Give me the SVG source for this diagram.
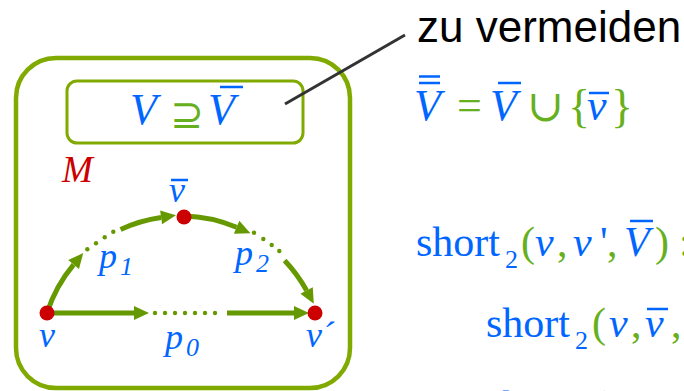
<svg xmlns="http://www.w3.org/2000/svg" width="684" height="391" viewBox="0 0 684 391">
<style>
.box{fill:none;stroke:#80aa00}
.ar{fill:none;stroke:#669900;stroke-width:5}
.dot{fill:#669900}
.nd{fill:#cc0000}
.mi{font-family:"Liberation Serif","Times New Roman",serif;font-style:italic;fill:#0066ff}
.mr{font-family:"Liberation Serif","Times New Roman",serif;fill:#0066ff}
.g{font-family:"Liberation Serif","Times New Roman",serif;fill:#66b020}
.bar{stroke:#0066ff;stroke-width:2.5}
.lbl{font-size:36px}
.sub{font-size:26px}
</style>
<defs>
<marker id="ah" markerUnits="userSpaceOnUse" markerWidth="16" markerHeight="14" refX="0" refY="7" orient="auto" overflow="visible">
<path d="M0,0 L15,7 L0,14 Z" fill="#669900"/>
</marker>
</defs>
<rect x="0" y="0" width="684" height="391" fill="#ffffff"/>

<g id="M">
<rect class="box" x="16" y="58" width="334" height="330" rx="40" stroke-width="4.5"/>
<text class="mi" x="62" y="182" font-size="37" style="fill:#cc0000">M</text>
</g>

<g id="subset-box">
<rect class="box" x="67" y="81" width="236" height="62" rx="10" stroke-width="3"/>
<text class="mi" x="130" y="124" font-size="44">V</text>
<text x="170" y="128" font-family="DejaVu Sans, sans-serif" font-size="40" fill="#66b020">⊇</text>
<text class="mi" x="208" y="124" font-size="44">V</text>
<line class="bar" x1="220" y1="87" x2="243" y2="87"/>
</g>

<g id="connectors">
<line x1="285" y1="104" x2="405" y2="35" stroke="#333333" stroke-width="3"/>
<path class="ar" d="M47,313 A143,143 0 0 1 73.6,264.6" marker-end="url(#ah)"/>
<path class="ar" d="M120.6,229.4 A143,143 0 0 1 161.1,217.4" marker-end="url(#ah)"/>
<path class="ar" d="M184,216 A143,143 0 0 1 236.6,227.3" marker-end="url(#ah)"/>
<path class="ar" d="M284.6,260.4 A143,143 0 0 1 306.6,290.5" marker-end="url(#ah)"/>
<path class="ar" d="M47,313 L134,313" marker-end="url(#ah)"/>
<path class="ar" d="M227,313 L294,313" marker-end="url(#ah)"/>
<g class="dot">
<circle cx="87.3" cy="249.3" r="2.2"/><circle cx="96" cy="243.3" r="2.2"/><circle cx="104.7" cy="237.3" r="2.2"/><circle cx="113.3" cy="231.7" r="2.2"/>
<circle cx="254" cy="232.7" r="2.2"/><circle cx="263.3" cy="239" r="2.2"/><circle cx="271.7" cy="245" r="2.2"/><circle cx="279.3" cy="251" r="2.2"/>
<circle cx="155" cy="313" r="2.2"/><circle cx="165" cy="313" r="2.2"/><circle cx="175" cy="313" r="2.2"/><circle cx="185" cy="313" r="2.2"/><circle cx="195" cy="313" r="2.2"/><circle cx="205" cy="313" r="2.2"/><circle cx="215" cy="313" r="2.2"/>
</g>
<text class="mi lbl" x="99" y="268">p</text><text class="mi sub" x="120" y="275">1</text>
<text class="mi lbl" x="235" y="265">p</text><text class="mi sub" x="256" y="272">2</text>
<text class="mi lbl" x="165" y="349">p</text><text class="mi sub" x="186" y="356">0</text>
</g>

<g id="node-v">
<circle class="nd" cx="47" cy="313" r="7.5"/>
<text class="mi lbl" x="39" y="347">v</text>
</g>
<g id="node-vbar">
<circle class="nd" cx="184" cy="217" r="7.5"/>
<text class="mi lbl" x="169" y="202">v</text>
<line class="bar" x1="171" y1="180" x2="188" y2="180"/>
</g>
<g id="node-vprime">
<circle class="nd" cx="315" cy="313" r="7.5"/>
<text class="mi lbl" x="306" y="347">v´</text>
</g>

<g id="note">
<text x="417" y="42" font-family="Liberation Sans, Arial, sans-serif" font-size="44" fill="#000000">zu vermeiden</text>
</g>

<g id="formulas">
<text class="mi" x="414" y="120" font-size="44">V</text>
<line class="bar" x1="419" y1="76.5" x2="440" y2="76.5"/>
<line class="bar" x1="419" y1="83" x2="440" y2="83"/>
<text class="g" x="457" y="120" font-size="44">=</text>
<text class="mi" x="490" y="120" font-size="44">V</text>
<line class="bar" x1="498" y1="83" x2="521" y2="83"/>
<text x="527" y="121" font-family="DejaVu Serif, serif" font-size="44" fill="#66b020">∪</text>
<text class="g" x="568" y="122" font-size="46">{</text>
<text class="mi" x="587" y="120" font-size="44">v</text>
<line class="bar" x1="589" y1="93" x2="609" y2="93"/>
<text class="g" x="611" y="122" font-size="46">}</text>

<text class="mr" x="416" y="256" font-size="42">short</text>
<text class="mr" x="505" y="268" font-size="26">2</text>
<text class="g" x="521" y="256" font-size="42">(</text>
<text class="mi" x="535" y="256" font-size="42">v</text>
<text class="g" x="557" y="256" font-size="42">,</text>
<text class="mi" x="573" y="256" font-size="42">v</text>
<text class="mr" x="600" y="256" font-size="42">'</text>
<text class="g" x="607" y="256" font-size="42">,</text>
<text class="mi" x="624" y="256" font-size="42">V</text>
<line class="bar" x1="630" y1="221" x2="653" y2="221"/>
<text class="g" x="655" y="256" font-size="42">)</text>
<text class="g" x="679" y="256" font-size="42">:</text>

<text class="mr" x="486" y="337" font-size="42">short</text>
<text class="mr" x="575" y="349" font-size="26">2</text>
<text class="g" x="592" y="337" font-size="42">(</text>
<text class="mi" x="609" y="337" font-size="42">v</text>
<text class="g" x="631" y="337" font-size="42">,</text>
<text class="mi" x="645" y="337" font-size="42">v</text>
<line class="bar" x1="647" y1="309" x2="668" y2="309"/>
<text class="g" x="671" y="337" font-size="42">,</text>

<text class="mr" x="486" y="420" font-size="42">short</text>
<text class="g" x="592" y="420" font-size="42">(</text>
</g>
</svg>
